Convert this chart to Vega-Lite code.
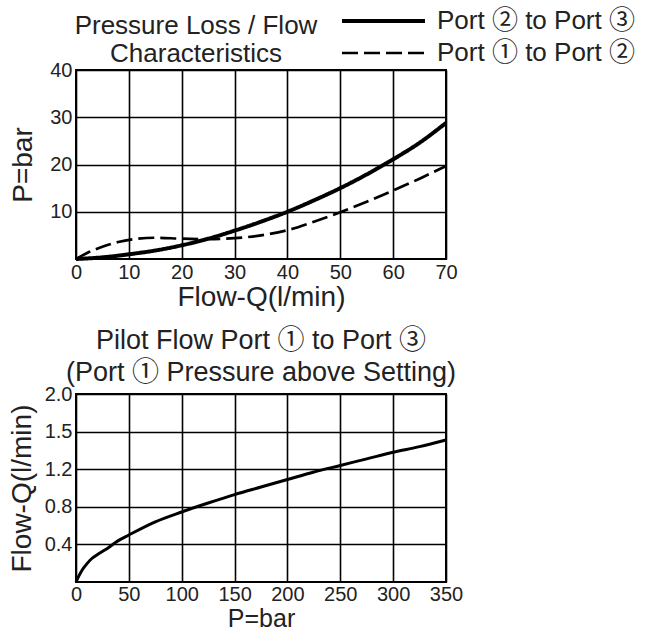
{
  "$schema": "https://vega.github.io/schema/vega-lite/v6.json",
  "background": "white",
  "padding": {"left": 7, "top": 5, "right": 5, "bottom": 0},
  "spacing": 14,
  "config": {
    "font": "Liberation Sans, Noto Sans CJK JP",
    "view": {"stroke": "black", "strokeWidth": 2},
    "axis": {
      "grid": true, "gridColor": "black", "gridOpacity": 1, "gridWidth": 1.6,
      "domain": false, "ticks": false, "labelFlush": false, "labelOverlap": false,
      "labelFontSize": 20, "labelColor": "#222222", "labelPadding": 4,
      "titleFontSize": 28, "titleFontWeight": "normal", "titleColor": "#222222"
    },
    "title": {"fontSize": 26, "fontWeight": "normal", "color": "#222222"}
  },
  "datasets": {
    "loss": [
      {"series": "Port ② to Port ③", "flow": 0, "pressure": 0},
      {"series": "Port ② to Port ③", "flow": 5, "pressure": 0.35},
      {"series": "Port ② to Port ③", "flow": 10, "pressure": 1.0},
      {"series": "Port ② to Port ③", "flow": 15, "pressure": 1.8},
      {"series": "Port ② to Port ③", "flow": 20, "pressure": 2.9},
      {"series": "Port ② to Port ③", "flow": 25, "pressure": 4.3},
      {"series": "Port ② to Port ③", "flow": 30, "pressure": 6.0},
      {"series": "Port ② to Port ③", "flow": 35, "pressure": 7.9},
      {"series": "Port ② to Port ③", "flow": 40, "pressure": 10.0},
      {"series": "Port ② to Port ③", "flow": 45, "pressure": 12.4},
      {"series": "Port ② to Port ③", "flow": 50, "pressure": 15.0},
      {"series": "Port ② to Port ③", "flow": 55, "pressure": 17.9},
      {"series": "Port ② to Port ③", "flow": 60, "pressure": 21.1},
      {"series": "Port ② to Port ③", "flow": 65, "pressure": 24.6},
      {"series": "Port ② to Port ③", "flow": 70, "pressure": 28.8},
      {"series": "Port ① to Port ②", "flow": 0, "pressure": 0},
      {"series": "Port ① to Port ②", "flow": 2, "pressure": 1.2},
      {"series": "Port ① to Port ②", "flow": 5, "pressure": 2.6},
      {"series": "Port ① to Port ②", "flow": 8, "pressure": 3.6},
      {"series": "Port ① to Port ②", "flow": 11, "pressure": 4.2},
      {"series": "Port ① to Port ②", "flow": 15, "pressure": 4.5},
      {"series": "Port ① to Port ②", "flow": 20, "pressure": 4.3},
      {"series": "Port ① to Port ②", "flow": 25, "pressure": 4.2},
      {"series": "Port ① to Port ②", "flow": 30, "pressure": 4.4},
      {"series": "Port ① to Port ②", "flow": 35, "pressure": 5.0},
      {"series": "Port ① to Port ②", "flow": 40, "pressure": 6.1},
      {"series": "Port ① to Port ②", "flow": 45, "pressure": 7.9},
      {"series": "Port ① to Port ②", "flow": 50, "pressure": 9.9},
      {"series": "Port ① to Port ②", "flow": 55, "pressure": 12.1},
      {"series": "Port ① to Port ②", "flow": 60, "pressure": 14.5},
      {"series": "Port ① to Port ②", "flow": 65, "pressure": 17.0},
      {"series": "Port ① to Port ②", "flow": 70, "pressure": 19.7}
    ],
    "pilot": [
      {"pressure": 0, "flow": 0},
      {"pressure": 3, "flow": 0.07},
      {"pressure": 6, "flow": 0.13},
      {"pressure": 10, "flow": 0.19},
      {"pressure": 15, "flow": 0.25},
      {"pressure": 20, "flow": 0.29},
      {"pressure": 30, "flow": 0.36},
      {"pressure": 40, "flow": 0.44},
      {"pressure": 50, "flow": 0.5},
      {"pressure": 75, "flow": 0.64},
      {"pressure": 100, "flow": 0.745},
      {"pressure": 125, "flow": 0.84},
      {"pressure": 150, "flow": 0.93},
      {"pressure": 175, "flow": 1.01},
      {"pressure": 200, "flow": 1.09},
      {"pressure": 225, "flow": 1.17},
      {"pressure": 250, "flow": 1.24},
      {"pressure": 275, "flow": 1.31},
      {"pressure": 300, "flow": 1.38},
      {"pressure": 325, "flow": 1.44},
      {"pressure": 350, "flow": 1.51}
    ]
  },
  "vconcat": [
    {
      "width": 370,
      "height": 189,
      "title": {"text": ["Pressure Loss / Flow", "Characteristics"], "anchor": "middle", "dx": -65, "offset": -7, "lineHeight": 28},
      "data": {"name": "loss"},
      "mark": {"type": "line", "color": "black", "interpolate": "monotone"},
      "encoding": {
        "x": {
          "field": "flow", "type": "quantitative",
          "scale": {"domain": [0, 70], "nice": false},
          "axis": {"values": [0, 10, 20, 30, 40, 50, 60, 70], "title": "Flow-Q(l/min)", "labelPadding": 3, "titlePadding": 1}
        },
        "y": {
          "field": "pressure", "type": "quantitative",
          "scale": {"domain": [0, 40], "nice": false},
          "axis": {"values": [10, 20, 30, 40], "title": "P=bar", "titlePadding": 12}
        },
        "strokeDash": {
          "field": "series", "type": "nominal",
          "scale": {"domain": ["Port ② to Port ③", "Port ① to Port ②"], "range": [[1, 0], [16, 6]]},
          "legend": {
            "orient": "none", "legendX": 264, "legendY": -65, "title": null,
            "labelFontSize": 26, "labelColor": "#222222", "labelOffset": 10, "labelLimit": 0,
            "symbolType": "stroke", "symbolSize": 6889, "symbolStrokeColor": "black",
            "clipHeight": 32, "rowPadding": 0, "padding": 0
          }
        },
        "strokeWidth": {
          "field": "series", "type": "nominal",
          "scale": {"domain": ["Port ② to Port ③", "Port ① to Port ②"], "range": [4, 2.7]},
          "legend": {
            "orient": "none", "legendX": 264, "legendY": -65, "title": null,
            "labelFontSize": 26, "labelColor": "#222222", "labelOffset": 10, "labelLimit": 0,
            "symbolType": "stroke", "symbolSize": 6889, "symbolStrokeColor": "black",
            "clipHeight": 32, "rowPadding": 0, "padding": 0
          }
        }
      }
    },
    {
      "width": 370,
      "height": 188,
      "title": {"text": ["Pilot Flow  Port ① to Port ③", "(Port ① Pressure above Setting)"], "anchor": "middle", "offset": -3, "lineHeight": 32, "fontSize": 27},
      "data": {"name": "pilot"},
      "mark": {"type": "line", "color": "black", "strokeWidth": 3, "interpolate": "monotone"},
      "encoding": {
        "x": {
          "field": "pressure", "type": "quantitative",
          "scale": {"domain": [0, 350], "nice": false},
          "axis": {"values": [0, 50, 100, 150, 200, 250, 300, 350], "title": "P=bar", "titleFontSize": 25, "labelPadding": 2, "titlePadding": 2}
        },
        "y": {
          "field": "flow", "type": "quantitative",
          "scale": {"domain": [0, 2], "nice": false},
          "axis": {
            "values": [0.4, 0.8, 1.2, 1.6, 2.0],
            "labelExpr": "datum.value == 1.6 ? '1.5' : format(datum.value, '.1f')",
            "title": "Flow-Q(l/min)", "titlePadding": 8
          }
        }
      }
    }
  ]
}
